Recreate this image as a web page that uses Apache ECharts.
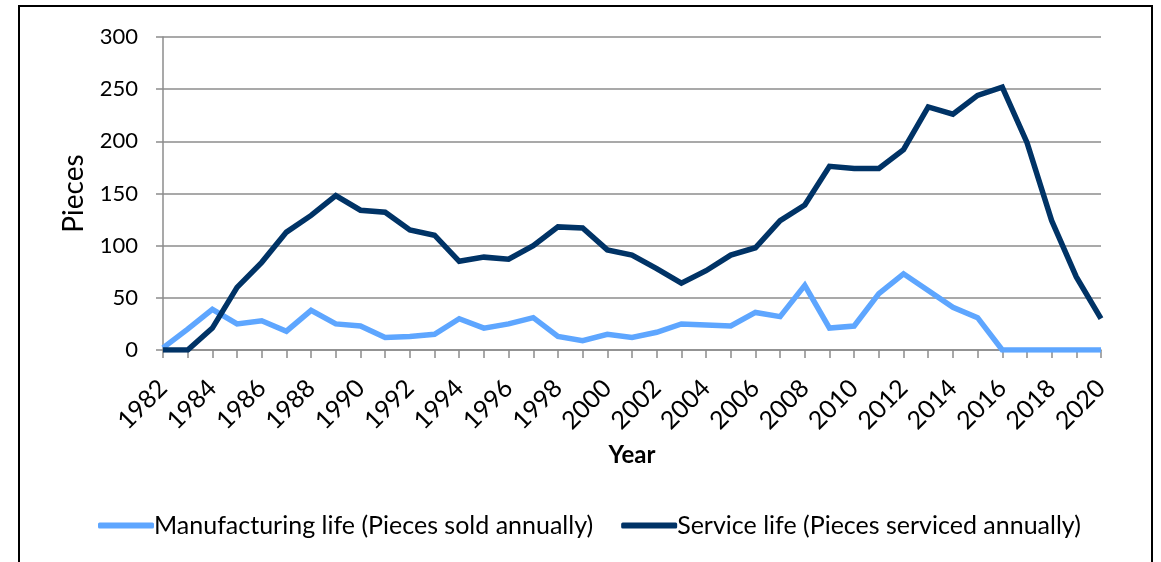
<!DOCTYPE html>
<html>
<head>
<meta charset="utf-8">
<script src="https://cdn.jsdelivr.net/npm/echarts@6/dist/echarts.min.js"></script>
<style>
html,body{margin:0;padding:0;background:#fff;}
#chart{width:1161px;height:562px;}
</style>
</head>
<body>
<div id="chart"></div>
<script>
const years = [];
for (let y = 1982; y <= 2020; y++) years.push(String(y));

const manufacturing = [2, 20, 39, 25, 28, 18, 38, 25, 23, 12, 13, 15, 30, 21, 25, 31, 13, 9, 15, 12,
  17, 25, 24, 23, 36, 32, 62, 21, 23, 54, 73, 57, 41, 31, 0, 0, 0, 0, 0];
const service = [0, 0, 21, 60, 84, 113, 129, 148, 134, 132, 115, 110, 85, 89, 87, 100, 118, 117, 96, 91,
  78, 64, 76, 91, 98, 124, 139, 176, 174, 174, 192, 233, 226, 244, 252, 199, 124, 70, 30];

const seriesNames = ['Manufacturing life (Pieces sold annually)', 'Service life (Pieces serviced annually)'];
const yTicks = [0, 300, 50];

const chart = echarts.init(document.getElementById('chart'));
const font = 'Lato, "Noto Sans", sans-serif';
const gridColor = '#8c8c8c';
chart.setOption({
  animation: false,
  textStyle: {fontFamily: font},
  graphic: [{
    type: 'rect',
    shape: {x: 19, y: 6, width: 1133, height: 620},
    style: {fill: 'none', stroke: '#000', lineWidth: 2}
  }],
  grid: {left: 163, right: 60, top: 37, bottom: 212},
  legend: {
    bottom: 19,
    left: 93,
    itemWidth: 56,
    itemHeight: 6,
    itemGap: 28,
    icon: 'roundRect',
    textStyle: {fontSize: 25, color: '#000', fontFamily: font, padding: [0,0,0,-5]},
    data: seriesNames
  },
  xAxis: {
    type: 'category',
    data: years,
    boundaryGap: false,
    name: 'Year',
    nameLocation: 'middle',
    nameGap: 93,
    nameMoveOverlap: false,
    nameTextStyle: {fontSize: 24, fontWeight: 'bold', color: '#000'},
    axisLine: {lineStyle: {color: gridColor, width: 1.5}},
    axisTick: {show: true, interval: 0, length: 8, lineStyle: {color: gridColor, width: 1.5}},
    axisLabel: {interval: 1, rotate: 45, fontSize: 25, color: '#000', margin: 34}
  },
  yAxis: {
    type: 'value',
    min: yTicks[0],
    max: yTicks[1],
    interval: yTicks[2],
    name: 'Pieces',
    nameLocation: 'middle',
    nameGap: 75,
    nameTextStyle: {fontSize: 28, color: '#000'},
    axisLine: {show: true, lineStyle: {color: gridColor, width: 1.5}},
    axisTick: {show: true, length: 7, lineStyle: {color: gridColor, width: 1.5}},
    splitLine: {lineStyle: {color: gridColor, width: 1.5}},
    axisLabel: {fontSize: 22, color: '#000', margin: 25}
  },
  series: [{
    name: seriesNames[0],
    type: 'line',
    data: manufacturing,
    showSymbol: false,
    color: '#5ea6ff',
    lineStyle: {width: 5.5, color: '#5ea6ff', join: 'miter'}
  }, {
    name: seriesNames[1],
    type: 'line',
    data: service,
    showSymbol: false,
    color: '#003366',
    lineStyle: {width: 5.5, color: '#003366', join: 'miter'}
  }]
});
</script>
</body>
</html>
